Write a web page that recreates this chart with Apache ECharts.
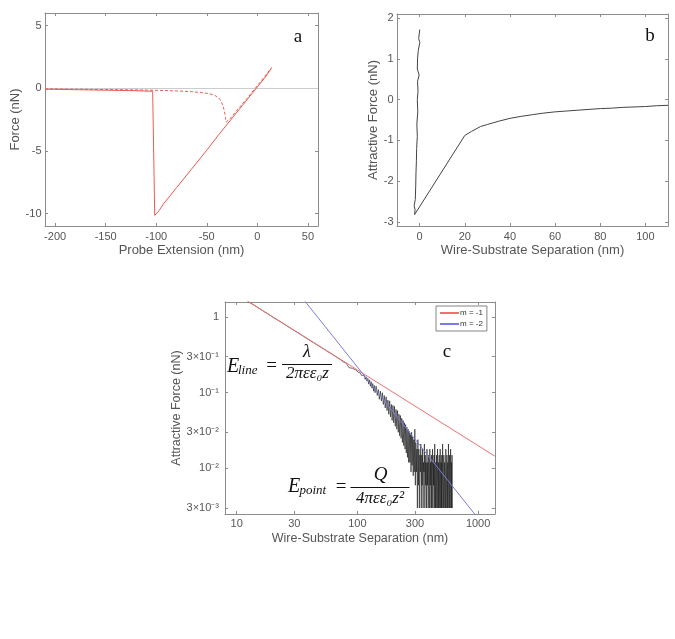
<!DOCTYPE html>
<html><head><meta charset="utf-8">
<script src="https://cdn.jsdelivr.net/npm/echarts@6/dist/echarts.min.js"></script>
<style>html,body{margin:0;padding:0;background:#fff}#c{width:675px;height:639px}</style>
</head><body><div id="c"></div>
<script>
// ---------- Panel a : force curves ----------
const aRetractX = [-210,-180,-150,-120,-103.5,-101.5,-100.5,-99,-97,-95,-93,-80,-65,-50,-40,-28,-15,0,8,14];
const aRetractY = [-0.08,-0.12,-0.16,-0.2,-0.25,-10.15,-10.1,-9.95,-9.75,-9.5,-9.25,-7.95,-6.45,-4.95,-3.9,-2.7,-1.4,0.1,0.9,1.6];
const aApproachX = [-210,-180,-150,-120,-100,-80,-65,-55,-47,-42,-39,-37,-35.5,-34,-33,-32.2,-31.5,-30.8,-29.5,-27,-20,-10,0,7,14];
const aApproachY = [-0.05,-0.08,-0.11,-0.14,-0.17,-0.22,-0.28,-0.35,-0.45,-0.58,-0.72,-0.9,-1.12,-1.4,-1.7,-2.0,-2.35,-2.7,-2.72,-2.45,-1.75,-0.8,0.2,0.9,1.65];
const aXTicks = [-200,-150,-100,-50,0,50];
const aYTicks = [-10,-5,0,5];

// ---------- Panel b : attractive force vs separation ----------
const bX = [0.1,-0.4,0.1,-0.6,-0.9,-1.0,-0.2,-0.9,-0.7,-1.0,-0.8,-1.2,-1.0,-1.3,-1.4,-1.6,-1.7,-1.9,-2.4,-2.0,-2.2,
            20,23,27,30,35,40,45,50,55,60,65,70,75,80,85,90,95,100,105,110];
const bY = [1.72,1.5,1.4,1.2,1.0,0.75,0.6,0.45,0.2,0.0,-0.3,-0.6,-0.9,-1.2,-1.5,-1.8,-2.1,-2.45,-2.6,-2.7,-2.82,
            -0.88,-0.78,-0.66,-0.61,-0.53,-0.46,-0.41,-0.37,-0.33,-0.3,-0.28,-0.26,-0.24,-0.22,-0.21,-0.19,-0.18,-0.17,-0.15,-0.14];
const bXTicks = [0,20,40,60,80,100];
const bYTicks = [-3,-2,-1,0,1,2];

// ---------- Panel c : log-log ----------
const cBlackX = [12,13,14,15,16,17,18,19,20,22,24,26,28,30,32,34,36,38,40,43,46,49,52,55,58,61,64,67,70,73,76,79,82,85,88,91,94,97,100,
 102,104,106,108,110,112,114,116,118,120,122,124,126,128,130,132,134,136,138,140,143,146,149,152,155,158,161,164,167,170,173,176,179,182,185,188,191,194,197,200,
 203,206,209,212,215,218,221,224,227,230,233,236,239,242,245,248,251,254,257,260,263,266,269,272,275,278,281,284,287,290,293,296,299,
 302,305,308,311,314,317,320,323,326,329,332,335,338,341,344,347,350,353,356,359,362,365,368,371,374,377,380,383,386,389,392,395,398,
 401,404,407,410,413,416,419,422,425,428,431,434,437,440,443,446,449,452,455,458,461,464,467,470,473,476,479,482,485,488,491,494,497,500,
 504,508,512,516,520,524,528,532,536,540,544,548,552,556,560,564,568,572,576,580,584,588,592,596,600,604,608,612];
const cBlackY = [1.66,1.53,1.43,1.33,1.25,1.17,1.11,1.05,0.99,0.905,0.83,0.765,0.71,0.662,0.622,0.585,0.552,0.522,0.495,0.462,0.432,0.405,0.383,0.362,0.342,0.326,0.31,0.296,0.282,0.272,0.256,0.252,0.236,0.215,0.218,0.21,0.206,0.2,0.19,
 0.186,0.178,0.182,0.17,0.175,0.16,0.168,0.15,0.162,0.142,0.155,0.13,0.148,0.122,0.14,0.115,0.132,0.105,0.125,0.1,0.122,0.092,0.11,0.082,0.105,0.078,0.1,0.07,0.092,0.063,0.088,0.058,0.08,0.052,0.078,0.048,0.07,0.043,0.068,0.04,
 0.066,0.036,0.06,0.033,0.058,0.03,0.052,0.027,0.05,0.025,0.046,0.022,0.043,0.02,0.04,0.018,0.038,0.016,0.035,0.014,0.033,0.012,0.031,0.012,0.028,0.009,0.03,0.011,0.026,0.008,0.024,0.009,0.033,
 0.006,0.022,0.009,0.018,0.003,0.024,0.006,0.018,0.003,0.015,0.009,0.021,0.003,0.015,0.006,0.018,0.003,0.012,0.009,0.021,0.003,0.015,0.006,0.012,0.003,0.018,0.006,0.012,0.003,0.015,0.009,0.003,0.018,
 0.006,0.012,0.003,0.015,0.003,0.009,0.018,0.003,0.012,0.006,0.015,0.003,0.021,0.006,0.003,0.012,0.003,0.015,0.009,0.003,0.018,0.006,0.003,0.012,0.003,0.015,0.006,0.003,0.018,0.009,0.003,0.012,0.003,0.015,
 0.003,0.021,0.006,0.003,0.015,0.003,0.012,0.006,0.003,0.018,0.003,0.009,0.015,0.003,0.012,0.003,0.021,0.006,0.003,0.015,0.003,0.009,0.018,0.003,0.012,0.003,0.015,0.003];
const cRedX = [8,1380];
const cRedY = [2.5,0.0145];
const cBlueX = [30,1000];
const cBlueY = [2.43,0.00219];
const cXTicks = [10,30,100,300,1000];
const cXLabels = ['10','30','100','300','1000'];
const cYTicks = [0.003,0.01,0.03,0.1,0.3,1];
const cYLabels = ['3\u00d710\u207b\u00b3','10\u207b\u00b2','3\u00d710\u207b\u00b2','10\u207b\u00b9','3\u00d710\u207b\u00b9','1'];

const zip = (xs, ys) => xs.map((x, i) => [x, ys[i]]);

const AX = '#8c8c8c', LBL = '#555', SANS = '"Liberation Sans", Arial, sans-serif', SERIF = '"Liberation Serif", "DejaVu Serif", serif';

function mkAxis(o) {
  return {
    type: o.type || 'value', logBase: 10, gridIndex: o.grid, position: o.pos,
    min: o.min, max: o.max,
    name: o.name || '', nameLocation: 'middle', nameGap: o.gap || 0,
    nameTextStyle: {fontSize: o.nameSize || 13, color: '#555', fontFamily: SANS},
    axisLine: {show: true, onZero: false, lineStyle: {color: AX, width: 1}},
    axisTick: {show: true, inside: true, length: 3, customValues: o.ticks, lineStyle: {color: AX, width: 1}},
    axisLabel: {show: !!o.labels, customValues: o.ticks, fontSize: 11, color: LBL, margin: o.margin || 5,
                fontFamily: SANS, formatter: o.fmt},
    splitLine: {show: false}, minorTick: {show: false}, minorSplitLine: {show: false},
    silent: true
  };
}
function labelFrom(ticks, labels) {
  return v => { const i = ticks.findIndex(t => Math.abs(t - v) <= Math.abs(t) * 1e-6 + 1e-12); return i >= 0 ? labels[i] : ''; };
}

const xAxis = [
  mkAxis({grid:0,pos:'bottom',min:-210,max:60,ticks:aXTicks,labels:true,name:'Probe Extension (nm)',gap:17.5,margin:5.5}),
  mkAxis({grid:0,pos:'top',min:-210,max:60,ticks:aXTicks}),
  mkAxis({grid:1,pos:'bottom',min:-10,max:110,ticks:bXTicks,labels:true,name:'Wire-Substrate Separation (nm)',gap:17.5,margin:5}),
  mkAxis({grid:1,pos:'top',min:-10,max:110,ticks:bXTicks}),
  mkAxis({type:'log',grid:2,pos:'bottom',min:8,max:1380,ticks:cXTicks,labels:true,name:'Wire-Substrate Separation (nm)',gap:18.5,margin:4,nameSize:12.5,fmt:labelFrom(cXTicks,cXLabels)}),
  mkAxis({type:'log',grid:2,pos:'top',min:8,max:1380,ticks:cXTicks})
];
const yAxis = [
  mkAxis({grid:0,pos:'left',min:-11,max:6,ticks:aYTicks,labels:true,name:'Force (nN)',gap:21,margin:3.5}),
  mkAxis({grid:0,pos:'right',min:-11,max:6,ticks:aYTicks}),
  mkAxis({grid:1,pos:'left',min:-3.1,max:2.1,ticks:bYTicks,labels:true,name:'Attractive Force (nN)',gap:15.5,margin:3.5}),
  mkAxis({grid:1,pos:'right',min:-3.1,max:2.1,ticks:bYTicks}),
  mkAxis({type:'log',grid:2,pos:'left',min:0.0025,max:1.58,ticks:cYTicks,labels:true,name:'Attractive Force (nN)',gap:36.5,margin:6,nameSize:12.5,fmt:labelFrom(cYTicks,cYLabels)}),
  mkAxis({type:'log',grid:2,pos:'right',min:0.0025,max:1.58,ticks:cYTicks})
];

function txt(text, x, y, size, opts) {
  opts = opts || {};
  return {type:'text', x:x, y:y, silent:true, z:10,
    style:{text:text, fontSize:size, fontFamily:SERIF, fontStyle:opts.italic ? 'italic' : 'normal',
           fill:'#111', align:opts.align || 'left', verticalAlign:'middle'}};
}
function bar(x1, x2, y) {
  return {type:'line', silent:true, z:10, shape:{x1:x1, y1:y, x2:x2, y2:y}, style:{stroke:'#111', lineWidth:1.1}};
}

const option = {
  animation: false,
  backgroundColor: '#fff',
  grid: [
    {left:45, top:13, width:273, height:213},
    {left:397, top:14, width:271, height:212},
    {left:225, top:302, width:270, height:212}
  ],
  xAxis: xAxis,
  yAxis: yAxis,
  legend: {
    data: ['m = -1','m = -2'], orient:'vertical', left:436, top:306,
    itemWidth:19, itemHeight:8, itemGap:3, padding:[3,4,3,3],
    borderColor:'#666', borderWidth:0.8, backgroundColor:'#fff',
    itemStyle:{color:'transparent', borderColor:'transparent', borderWidth:0, opacity:0},
    textStyle:{fontSize:8, color:'#333', fontFamily:SANS, padding:[0,0,0,-4]}
  },
  series: [
    {type:'line', name:'retract', xAxisIndex:0, yAxisIndex:0, data:zip(aRetractX,aRetractY), symbol:'none',
     lineStyle:{color:'#ee5a50', width:1}, z:3,
     markLine:{silent:true, symbol:'none', label:{show:false}, data:[{yAxis:0}],
               lineStyle:{color:'#cccccc', width:1, type:'solid'}, z:1}},
    {type:'line', name:'approach', xAxisIndex:0, yAxisIndex:0, data:zip(aApproachX,aApproachY), symbol:'none',
     lineStyle:{color:'#ee5a50', width:1, type:[3,2]}, z:3},
    {type:'line', name:'sep', xAxisIndex:2, yAxisIndex:2, data:zip(bX,bY), symbol:'none',
     lineStyle:{color:'#444', width:1}},
    {type:'line', name:'data', xAxisIndex:4, yAxisIndex:4, data:zip(cBlackX,cBlackY), symbol:'none',
     lineStyle:{color:'#111', width:0.6}},
    {type:'line', name:'m = -1', xAxisIndex:4, yAxisIndex:4, data:zip(cRedX,cRedY), symbol:'none',
     lineStyle:{color:'#ee7070', width:1}, itemStyle:{color:'#ee7070'}},
    {type:'line', name:'m = -2', xAxisIndex:4, yAxisIndex:4, data:zip(cBlueX,cBlueY), symbol:'none',
     lineStyle:{color:'#7b7be8', width:1}, itemStyle:{color:'#7b7be8'}}
  ],
  graphic: [
    txt('a', 298, 37, 19, {align:'center'}),
    txt('b', 650, 36, 19, {align:'center'}),
    txt('c', 447, 352, 19, {align:'center'}),
    // E_line = lambda / (2 pi eps eps0 z)
    txt('E', 227, 366.5, 20, {italic:true}),
    txt('line', 238, 370.5, 13, {italic:true}),
    txt('=', 271.5, 366, 19, {align:'center'}),
    txt('\u03bb', 307, 352, 18, {italic:true, align:'center'}),
    bar(282, 332, 364.5),
    txt('2\u03c0\u03b5\u03b5\u2080z', 307.5, 373.5, 17, {italic:true, align:'center'}),
    // E_point = Q / (4 pi eps eps0 z^2)
    txt('E', 288, 486.5, 20, {italic:true}),
    txt('point', 299.5, 490.5, 13, {italic:true}),
    txt('=', 341, 487.5, 19, {align:'center'}),
    txt('Q', 380.5, 475, 19, {italic:true, align:'center'}),
    bar(350.5, 409.5, 487.5),
    txt('4\u03c0\u03b5\u03b5\u2080z\u00b2', 380, 498.5, 17, {italic:true, align:'center'})
  ]
};

const chart = echarts.init(document.getElementById('c'), null, {renderer:'canvas'});
chart.setOption(option);
</script></body></html>
